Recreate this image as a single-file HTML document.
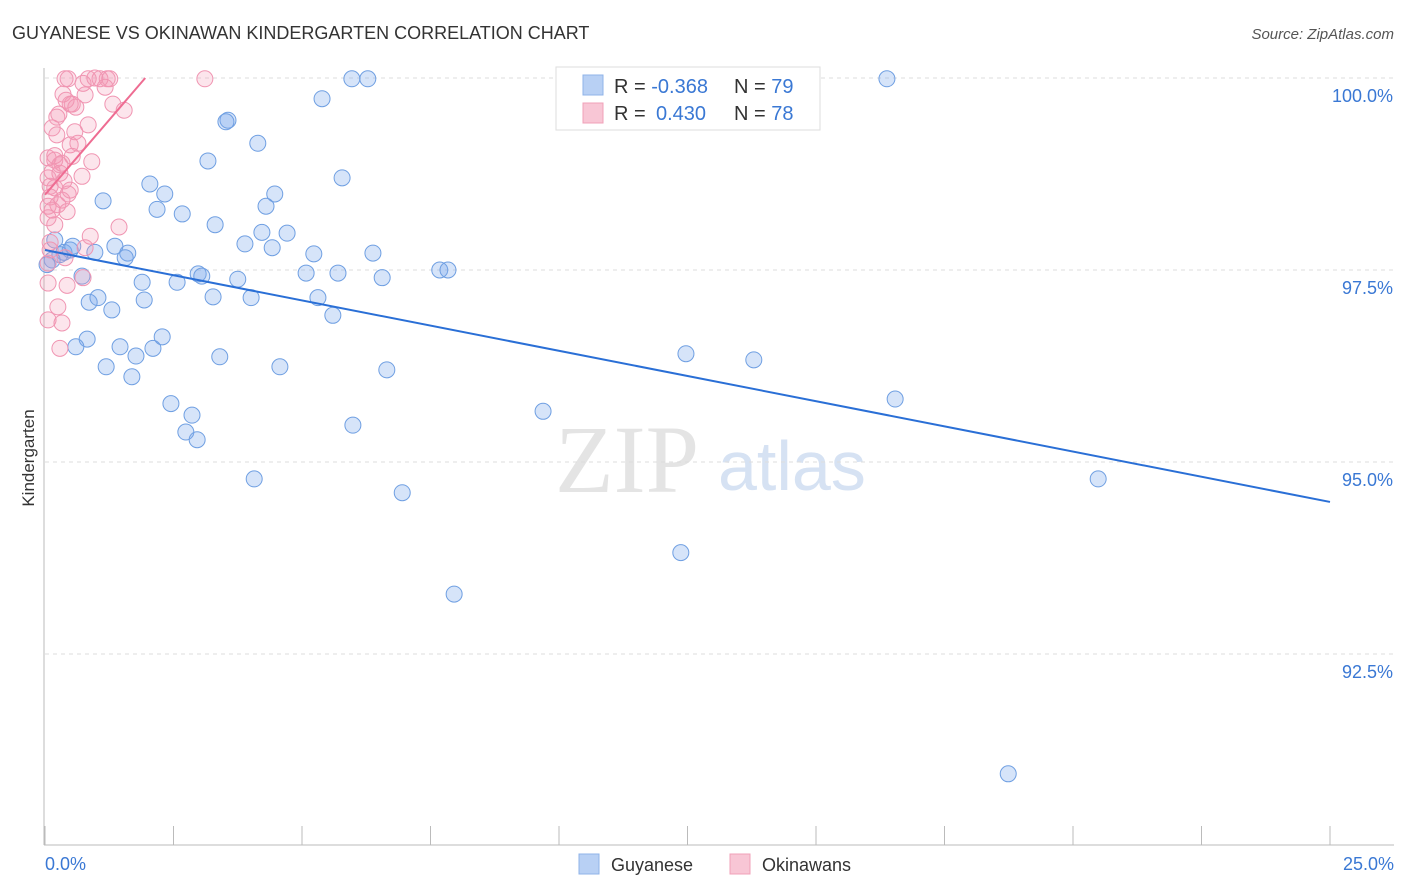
<!DOCTYPE html>
<html><head><meta charset="utf-8"><style>
body{margin:0;background:#fff;font-family:"Liberation Sans",sans-serif;}
#c{position:absolute;left:0;top:0;}
</style></head><body>
<svg id="c" width="1406" height="892">
<text x="12" y="39" font-size="18" fill="#333">GUYANESE VS OKINAWAN KINDERGARTEN CORRELATION CHART</text>
<text x="1394" y="39" font-size="15" fill="#555" font-style="italic" text-anchor="end">Source: ZipAtlas.com</text>
<text x="555" y="492" font-size="96" fill="#e4e4e4" font-family="Liberation Serif,serif">ZIP</text>
<text x="718" y="490" font-size="70" fill="#d6e2f3">atlas</text>
<text x="34" y="458" font-size="17" fill="#333" text-anchor="middle" transform="rotate(-90 34 458)">Kindergarten</text>
<g id="grid"></g><g id="pts"></g><g id="trend"></g>
<g>
<rect x="556" y="67" width="264" height="63" fill="#fff" stroke="#ddd"/>
<rect x="583" y="75" width="20" height="20" fill="#b8d0f4" stroke="#8fb3e8"/>
<rect x="583" y="103" width="20" height="20" fill="#f8c6d5" stroke="#f0a0b8"/>
<text x="614" y="93" font-size="20" fill="#333">R = <tspan fill="#3a78d4">-0.368</tspan></text>
<text x="734" y="93" font-size="20" fill="#333">N = <tspan fill="#3a78d4">79</tspan></text>
<text x="614" y="120" font-size="20" fill="#333">R = <tspan fill="#3a78d4" x="656">0.430</tspan></text>
<text x="734" y="120" font-size="20" fill="#333">N = <tspan fill="#3a78d4">78</tspan></text>
</g>
<g>
<rect x="579" y="854" width="20" height="20" fill="#b8d0f4" stroke="#8fb3e8"/>
<text x="611" y="871" font-size="18" fill="#333">Guyanese</text>
<rect x="730" y="854" width="20" height="20" fill="#f8c6d5" stroke="#f0a0b8"/>
<text x="762" y="871" font-size="18" fill="#333">Okinawans</text>
</g>
</svg>
<script>
const blueX=[5.97,6.28,16.38,5.39,3.56,3.52,4.14,3.17,5.78,2.04,2.33,4.47,1.13,2.18,4.30,2.67,3.31,4.22,4.71,3.89,1.36,1.61,1.56,0.37,0.49,0.54,0.19,5.23,6.38,4.42,0.97,0.72,1.89,2.57,2.98,3.05,3.75,5.08,5.70,6.56,7.68,7.84,0.86,1.03,1.93,3.27,4.01,5.31,5.60,1.30,0.82,0.60,1.46,1.77,2.10,2.28,3.40,1.19,1.69,4.57,6.65,12.47,13.79,16.54,9.69,2.45,2.86,2.74,2.96,5.99,4.07,6.95,20.49,12.37,7.96,18.74,0.14,0.04,0.29];
const blueY=[99.99,99.99,99.99,99.73,99.45,99.43,99.15,98.92,98.70,98.62,98.49,98.49,98.40,98.29,98.33,98.23,98.09,97.99,97.98,97.84,97.81,97.72,97.66,97.73,97.76,97.81,97.89,97.71,97.72,97.79,97.73,97.42,97.34,97.34,97.45,97.42,97.38,97.46,97.46,97.40,97.50,97.50,97.08,97.14,97.11,97.15,97.14,97.14,96.91,96.98,96.60,96.50,96.50,96.38,96.48,96.63,96.37,96.24,96.11,96.24,96.20,96.41,96.33,95.82,95.66,95.76,95.61,95.39,95.29,95.48,94.78,94.60,94.78,93.82,93.28,90.94,97.63,97.57,97.70];
const pinkX=[0.39,0.45,0.84,1.07,1.21,1.26,3.11,0.74,1.17,0.35,0.53,0.49,0.60,1.32,1.54,0.23,0.27,0.84,0.14,0.23,0.49,0.64,0.06,0.19,0.33,0.91,0.14,0.29,0.06,0.72,0.10,0.19,0.45,0.10,0.33,0.25,0.06,0.14,0.43,0.06,1.44,0.88,0.10,0.78,0.39,0.06,0.74,0.06,0.43,0.25,0.06,0.33,0.29,0.19,0.29,0.37,0.49,0.53,0.58,0.41,0.97,0.78,0.19,0.10];
const pinkY=[99.99,99.99,99.99,99.99,99.99,99.99,99.99,99.93,99.88,99.79,99.66,99.66,99.62,99.66,99.58,99.49,99.53,99.39,99.35,99.26,99.13,99.15,98.96,98.93,98.89,98.91,98.78,98.76,98.70,98.72,98.59,98.57,98.49,98.45,98.41,98.35,98.33,98.28,98.26,98.18,98.06,97.94,97.86,97.79,97.66,97.59,97.40,97.33,97.30,97.02,96.85,96.81,96.48,98.99,98.87,98.66,98.54,98.98,99.30,99.71,100.0,99.78,98.09,97.76];
const yTicks=[100,97.5,95,92.5];
const yTickLabels=["100.0%","97.5%","95.0%","92.5%"];
const xTicks=[0,2.5,5,7.5,10,12.5,15,17.5,20,22.5,25];
const blueTrend=[[0,97.76],[25,94.48]];
const pinkTrend=[[0,98.48],[1.95,100]];
const NS="http://www.w3.org/2000/svg";
const sx=v=>45+v*51.4, sy=v=>78+(100-v)*76.8;
function mk(t,a,p){const e=document.createElementNS(NS,t);for(const k in a)e.setAttribute(k,a[k]);p.appendChild(e);return e;}
const g=document.getElementById('grid');
yTicks.forEach((t,i)=>{
 const l=mk('line',{x1:45,x2:1394,y1:sy(t),y2:sy(t),stroke:'#ddd','stroke-dasharray':'4,4'},g);
 
 
 const tx=mk('text',{x:1393,y:sy(t)+24,'font-size':18,fill:'#3a78d4','text-anchor':'end'},g);
 tx.textContent=yTickLabels[i];
 
 
});
const ax=mk('line',{x1:44,x2:44,y1:68,y2:845,stroke:'#bbb'},g);


const bx=mk('line',{x1:44,x2:1394,y1:845,y2:845,stroke:'#bbb'},g);


xTicks.forEach(t=>{
 const l=mk('line',{x1:sx(t),x2:sx(t),y1:826,y2:845,stroke:'#bbb'},g);
 
 
});
const xl0=mk('text',{x:45,y:870,'font-size':18,fill:'#3a78d4'},g);xl0.textContent=xTicks[0].toFixed(1)+'%';


const xl1=mk('text',{x:1394,y:870,'font-size':18,fill:'#3a78d4','text-anchor':'end'},g);xl1.textContent=xTicks[xTicks.length-1].toFixed(1)+'%';


const p=document.getElementById('pts');
blueX.forEach((x,i)=>{
 const c=mk('circle',{cx:sx(x),cy:sy(blueY[i]),r:8,fill:'rgba(120,165,235,0.3)',stroke:'#6f9fe2','stroke-width':1},p);
 
 
});
pinkX.forEach((x,i)=>{
 const c=mk('circle',{cx:sx(x),cy:sy(pinkY[i]),r:8,fill:'rgba(245,150,180,0.25)',stroke:'#f095b2','stroke-width':1},p);
 
 
});
const tr=document.getElementById('trend');
const bl=mk('line',{x1:sx(blueTrend[0][0]),y1:sy(blueTrend[0][1]),x2:sx(blueTrend[1][0]),y2:sy(blueTrend[1][1]),stroke:'#2a6fd6','stroke-width':2},tr);


const pl=mk('line',{x1:sx(pinkTrend[0][0]),y1:sy(pinkTrend[0][1]),x2:sx(pinkTrend[1][0]),y2:sy(pinkTrend[1][1]),stroke:'#ee6c92','stroke-width':2},tr);


</script>
</body></html>
